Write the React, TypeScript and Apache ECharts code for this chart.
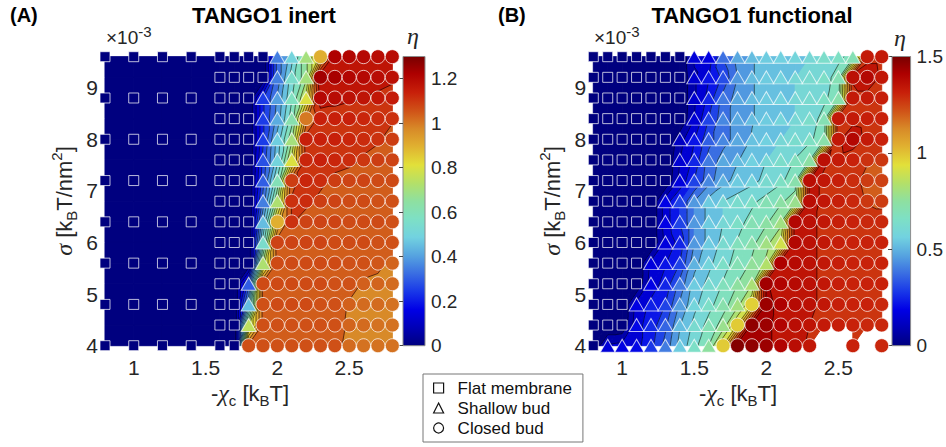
import React, { useEffect, useRef } from "react";
import * as echarts from "echarts";

// Membrane tension rows, in units of 1e-3 kBT/nm^2 (bottom to top)
const sigma = [4.0, 4.4, 4.8, 5.2, 5.6, 6.0, 6.4, 6.8, 7.2, 7.6, 8.0, 8.4, 8.8, 9.2, 9.6];

// -chi_c columns sampled for each case
const chiInert = [0.8, 1.0, 1.2, 1.4, 1.6, 1.7, 1.8, 1.9, 2.0, 2.1, 2.2, 2.3, 2.4, 2.5, 2.6, 2.7, 2.8];
const chiFunctional = [
  0.8, 0.9, 1.0, 1.1, 1.2, 1.3, 1.4, 1.5, 1.6, 1.7, 1.8, 1.9, 2.0, 2.1, 2.2, 2.3, 2.4, 2.5, 2.6, 2.7, 2.8,
];

// Shape class per grid node: S = flat membrane, T = shallow bud, C = closed bud, "." = not simulated
const phaseInert = [
  "SSSSSSCCCCCCCCCCC",
  "....SSTCCCCCCCCCC",
  "SSSSSSTCCCCCCCCCC",
  "....SSTCCCCCCCCCC",
  "SSSSSSSTCCCCCCCCC",
  "....SSSTCCCCCCCCC",
  "SSSSSSSTCCCCCCCCC",
  "....SSSTTCCCCCCCC",
  "SSSSSSSTTCCCCCCCC",
  "....SSSTTTCCCCCCC",
  "SSSSSSSTTTCCCCCCC",
  "....SSSTTTCCCCCCC",
  "SSSSSSSTTTTCCCCCC",
  "....SSSSTTTCCCCCC",
  "SSSSSSSSTTTCCCCCC",
];

// Bud shape factor eta, TANGO1 inert
const etaInert = [
  [0, 0, 0, 0, 0, 0, 1.06, 1.06, 1.06, 1.06, 1.06, 1.06, 1.06, 1.02, 1.01, 1.01, 1.01],
  [0, 0, 0, 0, 0, 0, 0.75, 1.06, 1.06, 1.06, 1.06, 1.06, 1.06, 1.03, 1.02, 1.01, 1.01],
  [0, 0, 0, 0, 0, 0, 0.45, 1.06, 1.07, 1.07, 1.07, 1.06, 1.06, 1.035, 1.02, 1.02, 1.01],
  [0, 0, 0, 0, 0, 0, 0.3, 1.07, 1.07, 1.07, 1.07, 1.07, 1.06, 1.06, 1.035, 1.03, 1.02],
  [0, 0, 0, 0, 0, 0, 0, 0.72, 1.07, 1.07, 1.07, 1.07, 1.07, 1.06, 1.06, 1.05, 1.03],
  [0, 0, 0, 0, 0, 0, 0, 0.55, 1.08, 1.08, 1.08, 1.08, 1.07, 1.07, 1.07, 1.06, 1.06],
  [0, 0, 0, 0, 0, 0, 0, 0.45, 0.9, 1.11, 1.08, 1.08, 1.08, 1.07, 1.07, 1.07, 1.06],
  [0, 0, 0, 0, 0, 0, 0, 0.35, 0.72, 1.11, 1.12, 1.09, 1.08, 1.07, 1.07, 1.06, 1.06],
  [0, 0, 0, 0, 0, 0, 0, 0.3, 0.6, 1.09, 1.13, 1.12, 1.09, 1.08, 1.08, 1.07, 1.07],
  [0, 0, 0, 0, 0, 0, 0, 0.28, 0.5, 0.8, 1.13, 1.14, 1.13, 1.12, 1.1, 1.09, 1.08],
  [0, 0, 0, 0, 0, 0, 0, 0.25, 0.48, 0.7, 1.14, 1.14, 1.14, 1.13, 1.12, 1.11, 1.09],
  [0, 0, 0, 0, 0, 0, 0, 0.25, 0.42, 0.62, 1.0, 1.14, 1.14, 1.14, 1.13, 1.12, 1.11],
  [0, 0, 0, 0, 0, 0, 0, 0.25, 0.4, 0.58, 0.8, 1.2, 1.19, 1.18, 1.17, 1.16, 1.15],
  [0, 0, 0, 0, 0, 0, 0, 0, 0.35, 0.55, 0.7, 1.24, 1.23, 1.21, 1.2, 1.19, 1.18],
  [0, 0, 0, 0, 0, 0, 0, 0, 0.35, 0.5, 0.7, 0.9, 1.22, 1.21, 1.2, 1.19, 1.19],
];

const phaseFunctional = [
  "STTTTTTTTCCCCCCC..C.C",
  "SSSTTTTTTTCCCCCCCCCCC",
  "SSSTTTTTTTTCCCCCCCCCC",
  "SSSSTTTTTTTTCCCCCCCCC",
  "SSSSTTTTTTTTTCCCCCCCC",
  "SSSSSTTTTTTTTTCCCCCCC",
  "SSSSSTTTTTTTTTCCCCCCC",
  "SSSSSTTTTTTTTTTCCCCCC",
  "SSSSSSTTTTTTTTTCCCCCC",
  "SSSSSSTTTTTTTTTTCCCCC",
  "SSSSSSTTTTTTTTTTTCCCC",
  "SSSSSSSTTTTTTTTTTCCCC",
  "SSSSSSSTTTTTTTTTTTCCC",
  "SSSSSSSTTTTTTTTTTTCCC",
  "SSSSSSSTTTTTTTTTTTTCC",
];

// Bud shape factor eta, TANGO1 functional (null = no run)
const etaFunctional: (number | null)[][] = [
  [0, 0.16, 0.18, 0.2, 0.28, 0.4, 0.55, 0.65, 0.75, 0.98, 1.48, 1.46, 1.44, 1.4, 1.37, 1.34, null, null, 1.31, null, 1.3],
  [0, 0, 0, 0.2, 0.26, 0.36, 0.52, 0.62, 0.7, 0.78, 0.98, 1.46, 1.44, 1.4, 1.37, 1.35, 1.33, 1.32, 1.31, 1.3, 1.3],
  [0, 0, 0, 0.18, 0.24, 0.3, 0.46, 0.58, 0.65, 0.72, 0.8, 0.97, 1.44, 1.41, 1.38, 1.36, 1.34, 1.32, 1.31, 1.31, 1.3],
  [0, 0, 0, 0, 0.19, 0.25, 0.4, 0.55, 0.62, 0.68, 0.75, 0.82, 1.43, 1.4, 1.38, 1.36, 1.34, 1.32, 1.31, 1.31, 1.31],
  [0, 0, 0, 0, 0.17, 0.22, 0.3, 0.5, 0.58, 0.65, 0.7, 0.76, 0.84, 1.41, 1.38, 1.36, 1.34, 1.32, 1.31, 1.31, 1.31],
  [0, 0, 0, 0, 0, 0.17, 0.25, 0.45, 0.55, 0.62, 0.68, 0.73, 0.8, 0.9, 1.39, 1.36, 1.34, 1.32, 1.31, 1.31, 1.31],
  [0, 0, 0, 0, 0, 0.19, 0.3, 0.45, 0.55, 0.6, 0.65, 0.7, 0.74, 0.8, 1.39, 1.36, 1.34, 1.32, 1.31, 1.3, 1.3],
  [0, 0, 0, 0, 0, 0.19, 0.3, 0.45, 0.55, 0.6, 0.63, 0.66, 0.7, 0.74, 0.78, 1.37, 1.34, 1.32, 1.3, 1.27, 1.26],
  [0, 0, 0, 0, 0, 0, 0.17, 0.3, 0.42, 0.5, 0.55, 0.58, 0.62, 0.66, 0.72, 1.37, 1.34, 1.32, 1.29, 1.26, 1.25],
  [0, 0, 0, 0, 0, 0, 0.15, 0.25, 0.4, 0.48, 0.52, 0.56, 0.6, 0.64, 0.68, 0.74, 1.36, 1.33, 1.31, 1.28, 1.27],
  [0, 0, 0, 0, 0, 0, 0.12, 0.22, 0.35, 0.42, 0.48, 0.53, 0.56, 0.6, 0.63, 0.66, 0.72, 1.34, 1.39, 1.33, 1.31],
  [0, 0, 0, 0, 0, 0, 0, 0.15, 0.3, 0.42, 0.48, 0.52, 0.55, 0.58, 0.6, 0.64, 0.7, 1.34, 1.33, 1.32, 1.31],
  [0, 0, 0, 0, 0, 0, 0, 0.14, 0.25, 0.4, 0.48, 0.52, 0.55, 0.57, 0.6, 0.62, 0.66, 0.72, 1.33, 1.33, 1.32],
  [0, 0, 0, 0, 0, 0, 0, 0.14, 0.22, 0.32, 0.45, 0.52, 0.55, 0.57, 0.6, 0.62, 0.65, 0.7, 1.36, 1.39, 1.34],
  [0, 0, 0, 0, 0, 0, 0, 0.16, 0.18, 0.38, 0.48, 0.52, 0.55, 0.56, 0.58, 0.6, 0.64, 0.66, 0.7, 1.33, 1.33],
];

const etaMaxInert = 1.3;
const etaMaxFunctional = 1.5;
const contourLevelsInert = 20;
const contourLevelsFunctional = 20;
const cbTicksInert = [0, 0.2, 0.4, 0.6, 0.8, 1, 1.2];
const cbTicksFunctional = [0, 0.5, 1, 1.5];
const xTicks = [1, 1.5, 2, 2.5];
const yTicks = [4, 5, 6, 7, 8, 9];
const shapeNames: Record<string, string> = { S: "Flat membrane", T: "Shallow bud", C: "Closed bud" };

const FONT = '"Liberation Sans", Arial, Helvetica, sans-serif';
const SERIF = '"Liberation Serif", "DejaVu Serif", serif';

// jet-like colour map
const STOPS: [number, string][] = [
  [0.0, "#00007f"], [0.06, "#0000b4"], [0.125, "#0000e6"], [0.19, "#1a3ae8"], [0.25, "#3a6ee2"],
  [0.31, "#55a2e0"], [0.375, "#72d2e0"], [0.44, "#7ee0c4"], [0.5, "#8ee0a0"], [0.56, "#b2e06a"],
  [0.625, "#e2e03a"], [0.69, "#e0b030"], [0.75, "#d88a28"], [0.81, "#d05418"], [0.875, "#c8200a"],
  [0.94, "#ae0000"], [1.0, "#780000"],
];
const STOP_RGB = STOPS.map(([t, h]) => [t, parseInt(h.slice(1, 3), 16), parseInt(h.slice(3, 5), 16), parseInt(h.slice(5, 7), 16)]);

function cmap(t: number): string {
  const u = Math.max(0, Math.min(1, t));
  for (let k = 1; k < STOP_RGB.length; k++) {
    const a = STOP_RGB[k - 1];
    const b = STOP_RGB[k];
    if (u <= b[0]) {
      const f = (u - a[0]) / (b[0] - a[0]);
      const r = Math.round(a[1] + f * (b[1] - a[1]));
      const g = Math.round(a[2] + f * (b[2] - a[2]));
      const bl = Math.round(a[3] + f * (b[3] - a[3]));
      return `rgb(${r},${g},${bl})`;
    }
  }
  return STOPS[STOPS.length - 1][1];
}

type P3 = number[];

function clipPoly(poly: P3[], level: number, keepAbove: boolean): P3[] {
  const out: P3[] = [];
  for (let i = 0; i < poly.length; i++) {
    const a = poly[i];
    const b = poly[(i + 1) % poly.length];
    const ina = keepAbove ? a[2] >= level : a[2] <= level;
    const inb = keepAbove ? b[2] >= level : b[2] <= level;
    if (ina) out.push(a);
    if (ina !== inb) {
      const f = (level - a[2]) / (b[2] - a[2]);
      out.push([a[0] + f * (b[0] - a[0]), a[1] + f * (b[1] - a[1]), level]);
    }
  }
  return out;
}

// Filled contour bands plus iso-lines, built from the grid values through the axis scales
function buildContour(api: any, xs: number[], ys: number[], vals: (number | null)[][], cmax: number, nLevels: number) {
  const step = cmax / nLevels;
  const bandOf = (v: number) => Math.floor(v / step + 1e-6);
  const fills: any[] = [];
  const lines: any[] = [];
  const poly = (pts: P3[], col: string) =>
    fills.push({
      type: "polygon",
      silent: true,
      shape: { points: pts.map((p) => [p[0], p[1]]) },
      style: { fill: col, stroke: col, lineWidth: 1 },
    });
  const node = (i: number, j: number): P3 | null => {
    const v = vals[j][i];
    if (v === null || v === undefined) return null;
    const c = api.coord([xs[i], ys[j]]);
    return [c[0], c[1], v];
  };
  for (let j = 0; j < ys.length - 1; j++) {
    for (let i = 0; i < xs.length - 1; i++) {
      const p00 = node(i, j);
      const p10 = node(i + 1, j);
      const p11 = node(i + 1, j + 1);
      const p01 = node(i, j + 1);
      if (p00 && p10 && p11 && p01) {
        const bs = [p00, p10, p11, p01].map((p) => bandOf(p[2]));
        if (bs.every((b) => b === bs[0])) {
          poly([p00, p10, p11, p01], cmap((bs[0] * step) / cmax));
          continue;
        }
      }
      const tris = [[p00, p10, p11], [p00, p11, p01]];
      for (const tri of tris) {
        if (tri.some((p) => !p)) continue;
        const t = tri as P3[];
        const vs = t.map((p) => p[2]);
        const lo = Math.min(...vs);
        const hi = Math.max(...vs);
        const b0 = bandOf(lo);
        const b1 = Math.max(b0, Math.ceil(hi / step - 1e-6) - 1);
        for (let b = b0; b <= b1; b++) {
          let pg = t;
          if (b > b0) pg = clipPoly(pg, b * step, true);
          if (b < b1) pg = clipPoly(pg, (b + 1) * step, false);
          if (pg.length < 3) continue;
          poly(pg, cmap((b * step) / cmax));
        }
        for (let b = b0 + 1; b <= b1; b++) {
          const L = b * step;
          const pts: number[][] = [];
          for (let e = 0; e < 3; e++) {
            const a = t[e];
            const c = t[(e + 1) % 3];
            if ((a[2] < L && c[2] >= L) || (a[2] >= L && c[2] < L)) {
              const f = (L - a[2]) / (c[2] - a[2]);
              pts.push([a[0] + f * (c[0] - a[0]), a[1] + f * (c[1] - a[1])]);
            }
          }
          if (pts.length === 2) {
            lines.push({
              type: "line",
              silent: true,
              shape: { x1: pts[0][0], y1: pts[0][1], x2: pts[1][0], y2: pts[1][1] },
              style: { stroke: "rgba(0,0,0,0.9)", lineWidth: 0.6 },
            });
          }
        }
      }
    }
  }
  return fills.concat(lines);
}

function markerData(xs: number[], phases: string[], vals: (number | null)[][], code: string) {
  const out: number[][] = [];
  phases.forEach((row, j) => {
    for (let i = 0; i < row.length; i++) {
      const v = vals[j][i];
      if (row[i] === code && v !== null) out.push([xs[i], sigma[j], v]);
    }
  });
  return out;
}

const SYMBOLS: Record<string, { symbol: string; size: number | number[] }> = {
  S: { symbol: "rect", size: 10 },
  T: { symbol: "triangle", size: [15, 13] },
  C: { symbol: "circle", size: 14 },
};

function panelSeries(
  idx: number, xs: number[], phases: string[], vals: (number | null)[][], cmax: number, nLevels: number,
) {
  const list: any[] = [
    {
      type: "custom",
      xAxisIndex: idx,
      yAxisIndex: idx,
      data: [[1.8, 6.8]],
      silent: true,
      clip: false,
      z: 1,
      renderItem: (_p: any, api: any) => ({
        type: "group",
        children: buildContour(api, xs, sigma, vals, cmax, nLevels),
      }),
    },
  ];
  for (const code of ["S", "T", "C"]) {
    list.push({
      type: "scatter",
      name: shapeNames[code],
      xAxisIndex: idx,
      yAxisIndex: idx,
      symbol: SYMBOLS[code].symbol,
      symbolSize: SYMBOLS[code].size,
      data: markerData(xs, phases, vals, code),
      silent: true,
      z: 3,
      itemStyle: {
        color: (p: any) => cmap(p.value[2] / cmax),
        borderColor: "rgba(255,255,255,0.72)",
        borderWidth: 1,
        opacity: 1,
      },
    });
  }
  return list;
}

const gradient = () =>
  new echarts.graphic.LinearGradient(0, 1, 0, 0, STOPS.map(([o, c]) => ({ offset: o, color: c })));

const plotX = (gridIndex: number) => ({
  type: "value",
  gridIndex,
  min: 0.8,
  max: 2.8,
  axisLine: { show: false },
  axisTick: { show: false },
  splitLine: { show: false },
  axisLabel: { customValues: xTicks, fontSize: 21, color: "#262626", margin: 11, fontFamily: FONT },
});
const plotY = (gridIndex: number) => ({
  type: "value",
  gridIndex,
  min: 4,
  max: 9.6,
  axisLine: { show: false },
  axisTick: { show: false },
  splitLine: { show: false },
  axisLabel: { customValues: yTicks, fontSize: 21, color: "#262626", margin: 7, fontFamily: FONT },
});
const barX = (gridIndex: number) => ({ type: "value", gridIndex, min: 0, max: 1, show: false });
const barY = (gridIndex: number, max: number, ticks: number[]) => ({
  type: "value",
  gridIndex,
  position: "right",
  min: 0,
  max,
  axisLine: { show: false },
  splitLine: { show: false },
  axisTick: { show: true, inside: true, length: 4, customValues: ticks, lineStyle: { color: "#444", width: 1 } },
  axisLabel: { customValues: ticks, fontSize: 19, color: "#262626", margin: 6, fontFamily: FONT },
});

const richAxis = {
  n: { fontSize: 22, lineHeight: 30, fontFamily: FONT, fill: "#262626" },
  g: { fontSize: 24, lineHeight: 30, fontFamily: SERIF, fontStyle: "italic", fill: "#262626" },
  sub: { fontSize: 15, lineHeight: 14, verticalAlign: "bottom", fontFamily: FONT, fill: "#262626" },
  sup: { fontSize: 15, lineHeight: 14, verticalAlign: "top", fontFamily: FONT, fill: "#262626" },
};

function textEl(x: number, y: number, text: string, extra: any = {}, rotation = 0) {
  return {
    type: "text",
    x,
    y,
    rotation,
    silent: true,
    style: { text, align: "center", verticalAlign: "middle", fill: "#000", fontFamily: FONT, ...extra },
  };
}

function panelTexts(dx: number, letter: string, title: string, titleX: number) {
  return [
    textEl(10 + dx, 15, letter, { fontSize: 20, fontWeight: "bold", align: "left" }),
    textEl(titleX, 15, title, { fontSize: 22, fontWeight: "bold" }),
    textEl(106 + dx, 37, "{n|\u00d710}{sup|-3}", {
      align: "left",
      rich: {
        n: { fontSize: 19, lineHeight: 26, fontFamily: FONT, fill: "#262626" },
        sup: { fontSize: 15, lineHeight: 15, verticalAlign: "top", fontFamily: FONT, fill: "#262626" },
      },
    }),
    textEl(64 + dx, 201, "{g|\u03c3}{n| [k}{sub|B}{n|T/nm}{sup|2}{n|]}", { rich: richAxis }, Math.PI / 2),
    textEl(250 + dx, 393, "{n|-}{g|\u03c7}{sub|c}{n| [k}{sub|B}{n|T]}", { rich: richAxis }),
  ];
}

export default function App() {
  const ref = useRef<HTMLDivElement>(null);
  useEffect(() => {
    if (!ref.current) return;
    const chart = echarts.init(ref.current, undefined, { renderer: "svg" });
    const option: any = {
      animation: false,
      backgroundColor: "#fff",
      textStyle: { fontFamily: FONT },
      grid: [
        { left: 105, top: 56.7, width: 287.3, height: 289 },
        { left: 593.3, top: 56.7, width: 288.4, height: 289 },
        {
          left: 403, top: 56.5, width: 22, height: 289.2, show: true,
          backgroundColor: gradient(), borderColor: "#8c8c8c", borderWidth: 1,
        },
        {
          left: 892, top: 56.5, width: 21.5, height: 289.2, show: true,
          backgroundColor: gradient(), borderColor: "#8c8c8c", borderWidth: 1,
        },
      ],
      xAxis: [plotX(0), plotX(1), barX(2), barX(3)],
      yAxis: [plotY(0), plotY(1), barY(2, etaMaxInert, cbTicksInert), barY(3, etaMaxFunctional, cbTicksFunctional)],
      legend: {
        left: 423,
        top: 374,
        orient: "vertical",
        selectedMode: false,
        padding: [4, 11, 4, 10],
        itemGap: 0,
        itemWidth: 10,
        itemHeight: 10,
        borderColor: "#777",
        borderWidth: 1,
        textStyle: { fontSize: 17, color: "#111", lineHeight: 20, padding: [0, 0, 0, 9], fontFamily: FONT },
        data: [
          { name: "Flat membrane", icon: "rect", itemStyle: { color: "rgba(0,0,0,0)", borderColor: "#111", borderWidth: 1.2 } },
          { name: "Shallow bud", icon: "triangle", itemStyle: { color: "rgba(0,0,0,0)", borderColor: "#111", borderWidth: 1.2 } },
          { name: "Closed bud", icon: "circle", itemStyle: { color: "rgba(0,0,0,0)", borderColor: "#111", borderWidth: 1.2 } },
        ],
      },
      graphic: [
        ...panelTexts(0, "(A)", "TANGO1 inert", 264),
        ...panelTexts(488, "(B)", "TANGO1 functional", 752),
        textEl(413, 36, "\u03b7", { fontSize: 24, fontStyle: "italic", fontFamily: SERIF, fill: "#262626" }),
        textEl(900, 38, "\u03b7", { fontSize: 24, fontStyle: "italic", fontFamily: SERIF, fill: "#262626" }),
      ],
      series: [
        ...panelSeries(0, chiInert, phaseInert, etaInert, etaMaxInert, contourLevelsInert),
        ...panelSeries(1, chiFunctional, phaseFunctional, etaFunctional, etaMaxFunctional, contourLevelsFunctional),
      ],
    };
    chart.setOption(option);
    return () => chart.dispose();
  }, []);
  return (
    <div
      ref={ref}
      style={{ position: "fixed", left: 0, top: 0, width: 946, height: 447, background: "#fff" }}
    />
  );
}
